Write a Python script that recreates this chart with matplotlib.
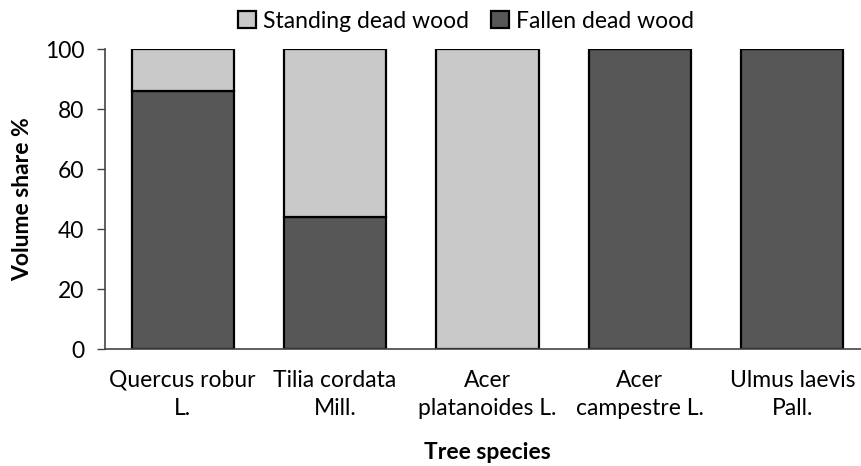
import matplotlib
matplotlib.use("Agg")
import matplotlib.pyplot as plt
import numpy as np

species = ["Quercus robur\nL.", "Tilia cordata\nMill.", "Acer\nplatanoides L.", "Acer\ncampestre L.", "Ulmus laevis\nPall."]
fallen = [86, 44, 0, 100, 100]
standing = [14, 56, 100, 0, 0]
yticks = [0, 20, 40, 60, 80, 100]

plt.rcParams['font.family'] = ['Lato', 'DejaVu Sans']
fig = plt.figure(figsize=(8.61, 4.66), dpi=100)
ax = fig.add_axes([105/861, 1-349/466, 765/861, 300/466])

x = np.arange(len(species))
w = 0.67
dark = "#575757"
light = "#c9c9c9"
fs = 16.5
ax.bar(x, fallen, w, color=dark, edgecolor="black", linewidth=1.6, label="Fallen dead wood", zorder=2)
ax.bar(x, standing, w, bottom=fallen, color=light, edgecolor="black", linewidth=1.6, label="Standing dead wood", zorder=2)

ax.set_xlim(-0.51, 4.51)
ax.set_ylim(0, 100)
ax.set_yticks(yticks)
ax.set_xticks(x)
ax.set_xticklabels(species, fontsize=fs, linespacing=1.4)
ax.tick_params(axis='y', labelsize=fs, length=6, width=1, color="#444444", direction='out', pad=9)
ax.tick_params(axis='x', length=0, pad=15)
for s in ["top", "right"]:
    ax.spines[s].set_visible(False)
for s in ["left", "bottom"]:
    ax.spines[s].set_color("#444444")
    ax.spines[s].set_linewidth(1.2)
ax.spines["bottom"].set_zorder(3)
ax.set_ylabel("Volume share %", fontsize=fs, fontweight="bold", labelpad=8)
ax.set_xlabel("Tree species", fontsize=fs, fontweight="bold", labelpad=17)

handles, labels = ax.get_legend_handles_labels()
leg = fig.legend(handles[::-1], labels[::-1], loc="center", bbox_to_anchor=(466/861, 1-21/466),
                 ncol=2, frameon=False, fontsize=fs, handlelength=0.75, handleheight=0.75,
                 handletextpad=0.3, columnspacing=1.0)

fig.savefig("out.png", dpi=100)
